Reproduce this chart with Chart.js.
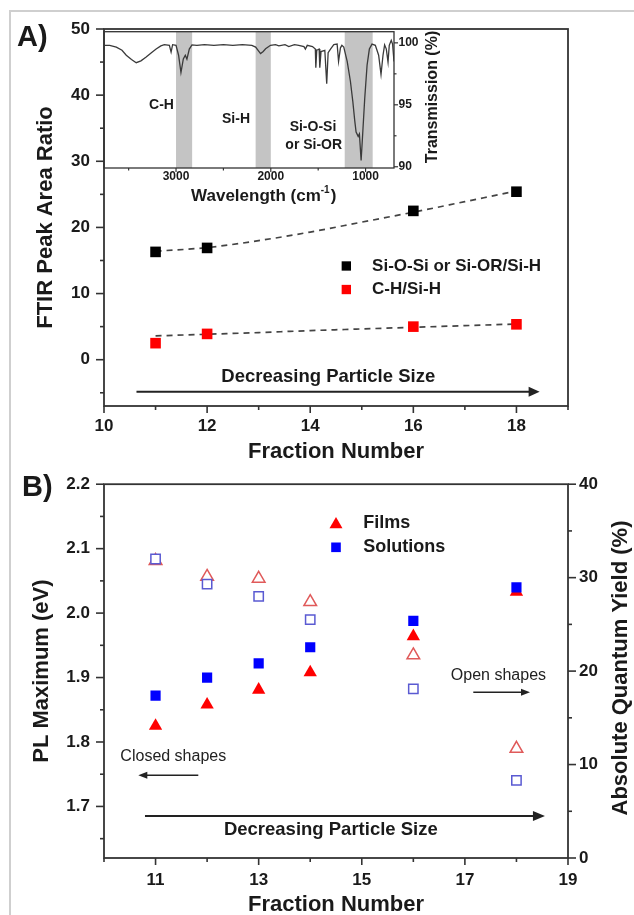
<!DOCTYPE html>
<html><head><meta charset="utf-8">
<script src="https://cdn.jsdelivr.net/npm/chart.js@4.4.1/dist/chart.umd.min.js"></script>
<style>
html,body{margin:0;padding:0;background:#fff;width:634px;height:915px;overflow:hidden;}
#frame{position:absolute;left:9px;top:10px;width:700px;height:1000px;border-left:2px solid #cfcfcf;border-top:2px solid #cfcfcf;}
canvas{position:absolute;}
#cA{left:0;top:0;width:634px;height:460px;}
#cI{left:100px;top:20px;width:360px;height:195px;}
#cB{left:0;top:460px;width:634px;height:455px;}
</style></head><body>
<div id="frame"></div>
<canvas id="cA" width="634" height="460"></canvas>
<canvas id="cI" width="360" height="195"></canvas>
<canvas id="cB" width="634" height="455"></canvas>
<script>
// ---------- Panel A data ----------
const fractionsA = [11, 12, 16, 18];
const siOSiRatio = [16.3, 16.9, 22.5, 25.4];
const chRatio = [2.5, 3.9, 5.0, 5.35];
const fitX = [11, 12, 13, 14, 15, 16, 17, 18];
const siOSiFit = [16.4, 16.95, 18.0, 19.3, 20.8, 22.3, 23.9, 25.5];
const chFit = [3.6, 3.85, 4.1, 4.4, 4.65, 4.9, 5.15, 5.4];
const aXTicks = [10, 12, 14, 16, 18];
const aXMinor = [11, 13, 15, 17, 19];
const aYTicks = [0, 10, 20, 30, 40, 50];
const aYMinor = [-5, 5, 15, 25, 35, 45];

// ---------- Inset FTIR spectrum ----------
const specWavenumber = [3750,3700,3630,3570,3525,3470,3420,3370,3315,3260,3210,3160,3123,3070,3052,3036,3000,2973,2948,2923,2902,2885,2860,2832,2780,2700,2600,2500,2400,2300,2200,2160,2130,2108,2080,2055,2003,1950,1915,1850,1810,1750,1705,1650,1635,1615,1560,1530,1525,1515,1490,1483,1470,1430,1410,1395,1370,1335,1300,1285,1265,1250,1230,1194,1160,1135,1114,1100,1078,1065,1047,1030,1009,984,960,932,897,862,837,816,799,781,763,750,729,715,700];
const specTransmission = [99.8,99.8,99.65,99.4,99.0,98.65,98.4,98.55,98.85,99.2,99.5,99.75,99.85,99.8,99.25,99.85,99.8,99.0,97.6,98.7,99.0,98.68,99.5,99.84,99.8,99.85,99.8,99.85,99.8,99.85,99.8,99.66,99.35,99.13,99.3,99.52,99.8,99.85,99.75,99.85,99.7,99.85,99.8,99.7,99.5,99.8,99.7,99.5,98.0,99.4,99.5,98.0,99.3,99.4,96.7,99.2,99.5,99.85,99.9,98.5,99.6,99.8,99.66,98.5,96.9,95.3,93.7,92.8,92.45,92.65,90.5,92.7,95.5,98.2,99.5,99.9,99.8,99.0,97.45,99.0,99.84,99.5,98.45,99.8,100.2,99.9,98.5];
const bandStart = [3000, 2160, 1220];
const bandEnd = [2830, 2000, 925];
const insetXTicks = [3000, 2000, 1000];
const insetXMinor = [3500, 2500, 1500];
const insetYTicks = [90, 95, 100];
const insetYMinor = [92.5, 97.5];

// ---------- Panel B data ----------
const fractionsB = [11, 12, 13, 14, 16, 18];
const filmsPL = [1.825, 1.858, 1.881, 1.908, 1.964, 2.033];
const solutionsPL = [1.872, 1.900, 1.922, 1.947, 1.988, 2.040];
const filmsQY = [31.8, 30.1, 29.9, 27.4, 21.7, 11.7];
const solutionsQY = [32.0, 29.3, 28.0, 25.5, 18.1, 8.3];
const bXTicks = [11, 13, 15, 17, 19];
const bXMinor = [10, 12, 14, 16, 18];
const bYTicks = [1.7, 1.8, 1.9, 2.0, 2.1, 2.2];
const bYMinor = [1.65, 1.75, 1.85, 1.95, 2.05, 2.15];
const bY2Ticks = [0, 10, 20, 30, 40];
const bY2Minor = [5, 15, 25, 35];

// ---------- helpers ----------
const FF = "'Liberation Sans', Arial, Helvetica, sans-serif";
const INK = '#1a1a1a', AXIS = '#333333';
Chart.defaults.font.family = FF;
Chart.defaults.color = INK;
const f = (size, w) => (w || 'bold') + ' ' + size + 'px ' + FF;
const fixed = (prop, v) => s => { s[prop] = v; };
const setTicks = vals => s => { s.ticks = vals.map(v => ({ value: v })); };
const pts = (xs, ys) => xs.map((x, i) => ({ x: x, y: ys[i] }));
const plain = v => String(v);

function drawText(ctx, s, x, y, font, align, color, rot) {
  ctx.save(); ctx.font = font; ctx.fillStyle = color || INK;
  ctx.textAlign = align || 'center'; ctx.textBaseline = 'middle';
  ctx.translate(x, y); if (rot) ctx.rotate(rot);
  ctx.fillText(s, 0, 0); ctx.restore();
}
function drawArrow(ctx, x1, x2, y, lw, hl, hw, color) {
  const d = Math.sign(x2 - x1);
  ctx.save(); ctx.strokeStyle = color; ctx.fillStyle = color; ctx.lineWidth = lw;
  ctx.beginPath(); ctx.moveTo(x1, y); ctx.lineTo(x2 - d * hl * 0.8, y); ctx.stroke();
  ctx.beginPath(); ctx.moveTo(x2, y); ctx.lineTo(x2 - d * hl, y - hw / 2); ctx.lineTo(x2 - d * hl, y + hw / 2); ctx.closePath(); ctx.fill();
  ctx.restore();
}
function drawFrame(chart, lw) {
  const a = chart.chartArea, ctx = chart.ctx;
  ctx.save(); ctx.strokeStyle = AXIS; ctx.lineWidth = lw;
  ctx.strokeRect(a.left, a.top, a.right - a.left, a.bottom - a.top); ctx.restore();
}
function drawTickMarks(chart, id, majors, minors, majLen, minLen, lw) {
  const s = chart.scales[id], ctx = chart.ctx, a = chart.chartArea;
  ctx.save(); ctx.strokeStyle = AXIS; ctx.lineWidth = lw;
  const draw = (vals, len) => vals.forEach(v => {
    const p = s.getPixelForValue(v);
    ctx.beginPath();
    if (s.axis === 'x') { ctx.moveTo(p, a.bottom); ctx.lineTo(p, a.bottom + len); }
    else if (s.position === 'left') { ctx.moveTo(a.left, p); ctx.lineTo(a.left - len, p); }
    else { ctx.moveTo(a.right, p); ctx.lineTo(a.right + len, p); }
    ctx.stroke();
  });
  draw(majors, majLen); draw(minors, minLen);
  ctx.restore();
}
function marker(ctx, ds, x, y, r) {
  ctx.save();
  ctx.fillStyle = ds.backgroundColor; ctx.strokeStyle = ds.borderColor; ctx.lineWidth = ds.borderWidth || 0;
  Chart.helpers.drawPoint(ctx, { pointStyle: ds.pointStyle, radius: r, rotation: 0, borderWidth: ds.borderWidth || 0 }, x, y);
  ctx.restore();
}
const common = {
  responsive: false, animation: false, devicePixelRatio: 1, events: [],
  plugins: { legend: { display: false }, tooltip: { enabled: false } }
};
const tickFont = { size: 17, weight: 'bold' };
const titleFont = { size: 22, weight: 'bold' };

// ---------- Panel A chart ----------
const pluginA = {
  id: 'panelA',
  afterDraw(chart) {
    const ctx = chart.ctx, x = chart.scales.x, y = chart.scales.y;
    drawFrame(chart, 1.8);
    drawTickMarks(chart, 'x', aXTicks, aXMinor, 7, 4, 1.6);
    drawTickMarks(chart, 'y', aYTicks, aYMinor, 8, 4, 1.6);
    drawArrow(ctx, x.getPixelForValue(10.63), x.getPixelForValue(18.45), y.getPixelForValue(-4.84), 2, 11, 10, '#222');
    drawText(ctx, 'Decreasing Particle Size', x.getPixelForValue(14.35), y.getPixelForValue(-2.57), f(18.5));
    const ds = chart.data.datasets;
    const lx = x.getPixelForValue(14.70), tx = x.getPixelForValue(15.2);
    [[0, 14.17], [1, 10.61]].forEach(([i, v]) => {
      const py = y.getPixelForValue(v);
      marker(ctx, ds[i], lx, py, 6.6);
      drawText(ctx, ds[i].label, tx, py, f(17), 'left');
    });
    drawText(ctx, 'A)', 17, 38, f(29), 'left');
  }
};
new Chart(document.getElementById('cA'), {
  type: 'scatter',
  data: { datasets: [
    { label: 'Si-O-Si or Si-OR/Si-H', data: pts(fractionsA, siOSiRatio), pointStyle: 'rect', pointRadius: 7.5, backgroundColor: '#000000', borderColor: '#000000', borderWidth: 0 },
    { label: 'C-H/Si-H', data: pts(fractionsA, chRatio), pointStyle: 'rect', pointRadius: 7.5, backgroundColor: '#ff0000', borderColor: '#ff0000', borderWidth: 0 },
    { label: 'fit Si-O-Si', data: pts(fitX, siOSiFit), showLine: true, pointRadius: 0, borderColor: '#444', borderWidth: 1.7, borderDash: [6, 5], cubicInterpolationMode: 'monotone' },
    { label: 'fit C-H', data: pts(fitX, chFit), showLine: true, pointRadius: 0, borderColor: '#444', borderWidth: 1.7, borderDash: [6, 5], cubicInterpolationMode: 'monotone' }
  ]},
  options: Object.assign({}, common, {
    layout: { autoPadding: false, padding: { top: 29, left: 0, right: 66, bottom: 0 } },
    scales: {
      x: { type: 'linear', position: 'bottom', min: 10, max: 19,
        afterBuildTicks: setTicks(aXTicks), afterFit: fixed('height', 54),
        grid: { display: false, drawTicks: false }, border: { display: false },
        ticks: { font: tickFont, color: INK, padding: 10, maxRotation: 0, autoSkip: false, callback: plain },
        title: { display: true, text: 'Fraction Number', font: titleFont, color: INK, padding: { top: 0, bottom: -5 } } },
      y: { type: 'linear', position: 'left', min: -7, max: 50,
        afterBuildTicks: setTicks(aYTicks), afterFit: fixed('width', 104),
        grid: { display: false, drawTicks: false }, border: { display: false },
        ticks: { font: tickFont, color: INK, padding: 14, callback: plain },
        title: { display: true, text: 'FTIR Peak Area Ratio', font: titleFont, color: INK, padding: { top: 33, bottom: 0 } } }
    }
  }),
  plugins: [pluginA]
});

// ---------- Inset chart ----------
const bandLabels = [
  { t: 'C-H', x: 3153, y: 94.95 },
  { t: 'Si-H', x: 2367, y: 93.86 },
  { t: 'Si-O-Si', x: 1555, y: 93.17 },
  { t: 'or Si-OR', x: 1547, y: 91.72 }
];
const pluginInset = {
  id: 'inset',
  beforeDatasetsDraw(chart) {
    const ctx = chart.ctx, x = chart.scales.x, a = chart.chartArea;
    ctx.save(); ctx.fillStyle = '#c4c4c4';
    bandStart.forEach((b, i) => {
      const p1 = x.getPixelForValue(b), p2 = x.getPixelForValue(bandEnd[i]);
      ctx.fillRect(Math.min(p1, p2), a.top, Math.abs(p2 - p1), a.bottom - a.top);
    });
    ctx.restore();
  },
  afterDraw(chart) {
    const ctx = chart.ctx, x = chart.scales.x, y = chart.scales.y;
    drawFrame(chart, 1.3);
    drawTickMarks(chart, 'x', insetXTicks, insetXMinor, 4, 2.5, 1.2);
    drawTickMarks(chart, 'y', insetYTicks, insetYMinor, 4, 2.5, 1.2);
    bandLabels.forEach(l => drawText(ctx, l.t, x.getPixelForValue(l.x), y.getPixelForValue(l.y), f(14)));
    // x title with superscript
    const main1 = 'Wavelength (cm', sup = '-1', main2 = ')';
    ctx.save();
    ctx.font = f(17); const w1 = ctx.measureText(main1).width, w3 = ctx.measureText(main2).width;
    ctx.font = f(10); const w2 = ctx.measureText(sup).width;
    ctx.restore();
    const total = w1 + w2 + w3 + 1;
    let sx = 163.7 - total / 2; const cy = 176;
    drawText(ctx, main1, sx, cy, f(17), 'left'); sx += w1;
    drawText(ctx, sup, sx, cy - 6, f(10), 'left'); sx += w2 + 1;
    drawText(ctx, main2, sx, cy, f(17), 'left');
    drawText(ctx, 'Transmission (%)', 333, 77, f(16), 'center', INK, -Math.PI / 2);
  }
};
new Chart(document.getElementById('cI'), {
  type: 'scatter',
  data: { datasets: [
    { label: 'FTIR', data: pts(specWavenumber, specTransmission), showLine: true, pointRadius: 0, borderColor: '#3a3a3a', borderWidth: 1.3, tension: 0 }
  ]},
  options: Object.assign({}, common, {
    layout: { autoPadding: false, padding: { top: 9, left: 4, right: 0, bottom: 0 } },
    scales: {
      x: { type: 'linear', position: 'bottom', min: 700, max: 3760, reverse: true,
        afterBuildTicks: setTicks(insetXTicks), afterFit: fixed('height', 47),
        grid: { display: false, drawTicks: false }, border: { display: false },
        ticks: { font: { size: 12, weight: 'bold' }, color: INK, padding: 1, maxRotation: 0, autoSkip: false, callback: plain } },
      y: { type: 'linear', position: 'right', min: 89.9, max: 100.9,
        afterBuildTicks: setTicks(insetYTicks), afterFit: fixed('width', 66),
        grid: { display: false, drawTicks: false }, border: { display: false },
        ticks: { font: { size: 12, weight: 'bold' }, color: INK, padding: 4.5, callback: plain } }
    }
  }),
  plugins: [pluginInset]
});

// ---------- Panel B chart ----------
const pluginB = {
  id: 'panelB',
  afterDraw(chart) {
    const ctx = chart.ctx, x = chart.scales.x, y = chart.scales.y;
    drawFrame(chart, 1.8);
    drawTickMarks(chart, 'x', bXTicks, bXMinor, 7, 4, 1.6);
    drawTickMarks(chart, 'y', bYTicks, bYMinor, 8, 4, 1.6);
    drawTickMarks(chart, 'y2', bY2Ticks, bY2Minor, 8, 4, 1.6);
    drawArrow(ctx, x.getPixelForValue(10.795), x.getPixelForValue(18.553), y.getPixelForValue(1.685), 2, 12, 10, '#222');
    drawText(ctx, 'Decreasing Particle Size', x.getPixelForValue(14.40), y.getPixelForValue(1.6633), f(18.5));
    drawText(ctx, 'Open shapes', x.getPixelForValue(17.651), y.getPixelForValue(1.903), f(16, 'normal'), 'center', '#222');
    drawArrow(ctx, x.getPixelForValue(17.163), x.getPixelForValue(18.263), y.getPixelForValue(1.8772), 1.5, 9, 7, '#222');
    drawText(ctx, 'Closed shapes', x.getPixelForValue(11.344), y.getPixelForValue(1.7767), f(16, 'normal'), 'center', '#222');
    drawArrow(ctx, x.getPixelForValue(11.829), x.getPixelForValue(10.665), y.getPixelForValue(1.7484), 1.5, 9, 7, '#222');
    const ds = chart.data.datasets;
    const lx = x.getPixelForValue(14.5), tx = x.getPixelForValue(15.03);
    marker(ctx, ds[2], lx, 64.6, 7.5);
    drawText(ctx, 'Films', tx, 63, f(18), 'left');
    marker(ctx, ds[0], lx, 87.3, 6.8);
    drawText(ctx, 'Solutions', tx, 87.5, f(18), 'left');
    drawText(ctx, 'Absolute Quantum Yield (%)', 621, 208, f(22), 'center', INK, -Math.PI / 2);
    drawText(ctx, 'B)', 22, 28, f(29), 'left');
  }
};
new Chart(document.getElementById('cB'), {
  type: 'scatter',
  data: { datasets: [
    { label: 'Solutions', data: pts(fractionsB, solutionsPL), yAxisID: 'y', pointStyle: 'rect', pointRadius: 7.2, backgroundColor: '#0000ff', borderColor: '#0000ff', borderWidth: 0 },
    { label: 'Solutions QY', data: pts(fractionsB, solutionsQY), yAxisID: 'y2', pointStyle: 'rect', pointRadius: 6.6, backgroundColor: '#ffffff', borderColor: '#5a5ad2', borderWidth: 1.5 },
    { label: 'Films', data: pts(fractionsB, filmsPL), yAxisID: 'y', pointStyle: 'triangle', pointRadius: 7.7, backgroundColor: '#ff0000', borderColor: '#ff0000', borderWidth: 0 },
    { label: 'Films QY', data: pts(fractionsB, filmsQY), yAxisID: 'y2', pointStyle: 'triangle', pointRadius: 7.3, backgroundColor: '#ffffff', borderColor: '#e05a5a', borderWidth: 1.5 }
  ]},
  options: Object.assign({}, common, {
    layout: { autoPadding: false, padding: { top: 23, left: 0, right: 0, bottom: 0 } },
    scales: {
      x: { type: 'linear', position: 'bottom', min: 10, max: 19,
        afterBuildTicks: setTicks(bXTicks), afterFit: fixed('height', 57),
        grid: { display: false, drawTicks: false }, border: { display: false },
        ticks: { font: tickFont, color: INK, padding: 12, maxRotation: 0, autoSkip: false, callback: plain },
        title: { display: true, text: 'Fraction Number', font: titleFont, color: INK, padding: { top: 0, bottom: -3 } } },
      y: { type: 'linear', position: 'left', min: 1.62, max: 2.2,
        afterBuildTicks: setTicks(bYTicks), afterFit: fixed('width', 104),
        grid: { display: false, drawTicks: false }, border: { display: false },
        ticks: { font: tickFont, color: INK, padding: 14, callback: v => Number(v).toFixed(1) },
        title: { display: true, text: 'PL Maximum (eV)', font: titleFont, color: INK, padding: { top: 29, bottom: 0 } } },
      y2: { type: 'linear', position: 'right', min: 0, max: 40,
        afterBuildTicks: setTicks(bY2Ticks), afterFit: fixed('width', 66),
        grid: { display: false, drawTicks: false }, border: { display: false },
        ticks: { font: tickFont, color: INK, padding: 11, callback: plain } }
    }
  }),
  plugins: [pluginB]
});
</script>
</body></html>
